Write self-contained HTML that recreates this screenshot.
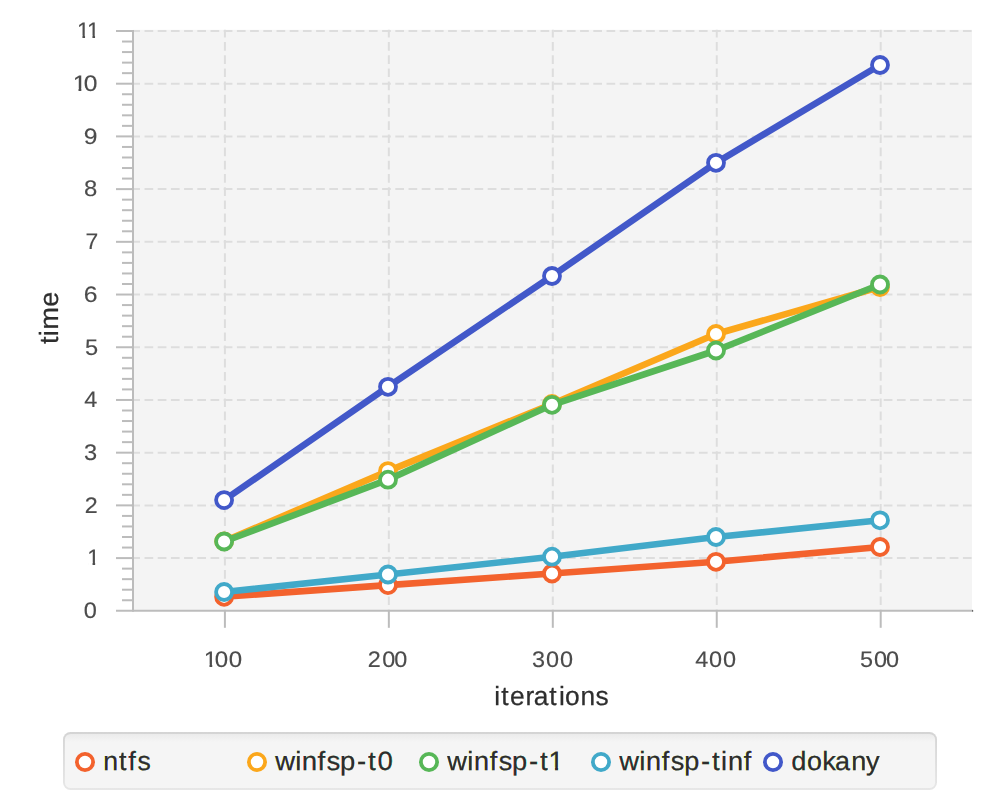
<!DOCTYPE html>
<html><head><meta charset="utf-8"><title>chart</title>
<style>html,body{margin:0;padding:0;background:#fff;width:1000px;height:800px;overflow:hidden}</style></head>
<body>
<svg width="1000" height="800" viewBox="0 0 1000 800" style="position:absolute;left:0;top:0;will-change:transform;font-family:'Liberation Sans',sans-serif;font-kerning:none;text-rendering:geometricPrecision">
<defs><linearGradient id="lgb" x1="0" y1="0" x2="0" y2="1"><stop offset="0" stop-color="#d4d4d4"/><stop offset="1" stop-color="#e7e7e7"/></linearGradient><linearGradient id="lgf" gradientUnits="userSpaceOnUse" x1="0" y1="734" x2="0" y2="742"><stop offset="0" stop-color="#ebebeb"/><stop offset="1" stop-color="#f5f5f5"/></linearGradient><clipPath id="c0"><path clip-rule="evenodd" d="M-2000 -2000H2000V2000H-2000ZM88.11 -2.38H92.55V1.50H88.11ZM95.14 -2.38H99.41V1.50H95.14Z"/></clipPath><clipPath id="c1"><path clip-rule="evenodd" d="M-2000 -2000H2000V2000H-2000ZM67.41 -2.38H71.85V1.50H67.41ZM74.44 -2.38H78.71V1.50H74.44Z"/></clipPath><clipPath id="c2"><path clip-rule="evenodd" d="M-2000 -2000H2000V2000H-2000ZM78.01 -2.38H82.45V1.50H78.01ZM85.04 -2.38H92.45V1.50H85.04ZM95.04 -2.38H99.31V1.50H95.04Z"/></clipPath><clipPath id="c3"><path clip-rule="evenodd" d="M-2000 -2000H2000V2000H-2000ZM191.48 -2.38H195.92V1.50H191.48ZM198.51 -2.38H202.78V1.50H198.51Z"/></clipPath><clipPath id="c4"><path clip-rule="evenodd" d="M-2000 -2000H2000V2000H-2000ZM532.35 -2.67H537.48V1.50H532.35ZM540.41 -2.67H545.33V1.50H540.41Z"/></clipPath><text id="lt0" transform="translate(0 769.8) scale(1.0168 1)" x="101.46 117.05 126.22 135.13" font-size="26.4" fill="currentColor" stroke="currentColor" stroke-width="0.25">ntfs</text><text id="lt1" transform="translate(0 769.8) scale(1.0416 1)" x="264.21 283.46 289.80 304.93 313.59 326.46 342.76 353.37 362.47" font-size="26.4" fill="currentColor" stroke="currentColor" stroke-width="0.25">winfsp-t0</text><text id="lt2" transform="translate(0 769.8) scale(1.0326 1)" x="433.17 452.52 458.96 474.19 482.95 495.94 512.36 523.05 531.14" font-size="26.4" fill="currentColor" stroke="currentColor" stroke-width="0.25" clip-path="url(#c4)">winfsp-t1</text><text id="lt3" transform="translate(0 769.8) scale(1.0312 1)" x="600.59 619.96 626.41 641.66 650.43 663.45 679.88 690.59 699.19 705.96 721.18" font-size="26.4" fill="currentColor" stroke="currentColor" stroke-width="0.25">winfsp-tinf</text><text id="lt4" transform="translate(0 769.8) scale(1.0252 1)" x="771.91 787.08 802.10 814.39 830.32 844.71" font-size="26.4" fill="currentColor" stroke="currentColor" stroke-width="0.25">dokany</text></defs>
<rect x="0" y="0" width="1000" height="800" fill="#ffffff"/>
<rect x="133.0" y="29.8" width="839.0" height="580.2" fill="#f4f4f4"/>
<g stroke="#dddddd" stroke-width="2" fill="none" stroke-dasharray="8.7 4.5">
<path d="M224.9 29.8V610.0" stroke-dashoffset="1"/>
<path d="M388.85 29.8V610.0" stroke-dashoffset="1"/>
<path d="M552.8 29.8V610.0" stroke-dashoffset="1"/>
<path d="M716.75 29.8V610.0" stroke-dashoffset="1"/>
<path d="M880.7 29.8V610.0" stroke-dashoffset="1"/>
<path d="M131.3 558.09H972.0"/>
<path d="M131.3 505.38H972.0"/>
<path d="M131.3 452.67H972.0"/>
<path d="M131.3 399.96H972.0"/>
<path d="M131.3 347.25H972.0"/>
<path d="M131.3 294.54H972.0"/>
<path d="M131.3 241.83H972.0"/>
<path d="M131.3 189.12H972.0"/>
<path d="M131.3 136.41H972.0"/>
<path d="M131.3 83.70H972.0"/>
<path d="M131.3 30.99H972.0"/>
</g>
<g stroke="#bcbcbc" stroke-width="2" fill="none">
<path d="M133 30V611.8"/>
<path d="M116 610.8H973"/>
<path d="M116 558.09H133"/>
<path d="M116 505.38H133"/>
<path d="M116 452.67H133"/>
<path d="M116 399.96H133"/>
<path d="M116 347.25H133"/>
<path d="M116 294.54H133"/>
<path d="M116 241.83H133"/>
<path d="M116 189.12H133"/>
<path d="M116 136.41H133"/>
<path d="M116 83.70H133"/>
<path d="M116 30.99H133"/>
<path d="M122 600.26H133"/>
<path d="M122 589.72H133"/>
<path d="M122 579.17H133"/>
<path d="M122 568.63H133"/>
<path d="M122 547.55H133"/>
<path d="M122 537.01H133"/>
<path d="M122 526.46H133"/>
<path d="M122 515.92H133"/>
<path d="M122 494.84H133"/>
<path d="M122 484.30H133"/>
<path d="M122 473.75H133"/>
<path d="M122 463.21H133"/>
<path d="M122 442.13H133"/>
<path d="M122 431.59H133"/>
<path d="M122 421.04H133"/>
<path d="M122 410.50H133"/>
<path d="M122 389.42H133"/>
<path d="M122 378.88H133"/>
<path d="M122 368.33H133"/>
<path d="M122 357.79H133"/>
<path d="M122 336.71H133"/>
<path d="M122 326.17H133"/>
<path d="M122 315.62H133"/>
<path d="M122 305.08H133"/>
<path d="M122 284.00H133"/>
<path d="M122 273.46H133"/>
<path d="M122 262.91H133"/>
<path d="M122 252.37H133"/>
<path d="M122 231.29H133"/>
<path d="M122 220.75H133"/>
<path d="M122 210.20H133"/>
<path d="M122 199.66H133"/>
<path d="M122 178.58H133"/>
<path d="M122 168.04H133"/>
<path d="M122 157.49H133"/>
<path d="M122 146.95H133"/>
<path d="M122 125.87H133"/>
<path d="M122 115.33H133"/>
<path d="M122 104.78H133"/>
<path d="M122 94.24H133"/>
<path d="M122 73.16H133"/>
<path d="M122 62.62H133"/>
<path d="M122 52.07H133"/>
<path d="M122 41.53H133"/>
<path d="M224.9 611V627.8"/>
<path d="M388.85 611V627.8"/>
<path d="M552.8 611V627.8"/>
<path d="M716.75 611V627.8"/>
<path d="M880.7 611V627.8"/>
</g>
<rect x="972" y="610.3" width="1.2" height="1.2" fill="#444"/>
<polyline points="224.1,596.8 388.0,585.1 552.0,573.5 716.0,561.8 880.0,547.0" fill="none" stroke="#f3622d" stroke-width="6.6" stroke-linejoin="round" stroke-linecap="butt"/>
<circle cx="224.1" cy="596.8" r="8" fill="#fff" stroke="#f3622d" stroke-width="3.8"/>
<circle cx="388.0" cy="585.1" r="8" fill="#fff" stroke="#f3622d" stroke-width="3.8"/>
<circle cx="552.0" cy="573.5" r="8" fill="#fff" stroke="#f3622d" stroke-width="3.8"/>
<circle cx="716.0" cy="561.8" r="8" fill="#fff" stroke="#f3622d" stroke-width="3.8"/>
<circle cx="880.0" cy="547.0" r="8" fill="#fff" stroke="#f3622d" stroke-width="3.8"/>
<polyline points="224.1,541.3 388.0,471.1 552.0,404.0 716.0,334.0 880.0,287.0" fill="none" stroke="#fba71b" stroke-width="6.6" stroke-linejoin="round" stroke-linecap="butt"/>
<circle cx="224.1" cy="541.3" r="8" fill="#fff" stroke="#fba71b" stroke-width="3.8"/>
<circle cx="388.0" cy="471.1" r="8" fill="#fff" stroke="#fba71b" stroke-width="3.8"/>
<circle cx="552.0" cy="404.0" r="8" fill="#fff" stroke="#fba71b" stroke-width="3.8"/>
<circle cx="716.0" cy="334.0" r="8" fill="#fff" stroke="#fba71b" stroke-width="3.8"/>
<circle cx="880.0" cy="287.0" r="8" fill="#fff" stroke="#fba71b" stroke-width="3.8"/>
<polyline points="224.1,541.5 388.0,479.7 552.0,404.8 716.0,350.5 880.0,284.5" fill="none" stroke="#57b757" stroke-width="6.6" stroke-linejoin="round" stroke-linecap="butt"/>
<circle cx="224.1" cy="541.5" r="8" fill="#fff" stroke="#57b757" stroke-width="3.8"/>
<circle cx="388.0" cy="479.7" r="8" fill="#fff" stroke="#57b757" stroke-width="3.8"/>
<circle cx="552.0" cy="404.8" r="8" fill="#fff" stroke="#57b757" stroke-width="3.8"/>
<circle cx="716.0" cy="350.5" r="8" fill="#fff" stroke="#57b757" stroke-width="3.8"/>
<circle cx="880.0" cy="284.5" r="8" fill="#fff" stroke="#57b757" stroke-width="3.8"/>
<polyline points="224.1,592.0 388.0,574.5 552.0,556.7 716.0,537.0 880.0,520.3" fill="none" stroke="#41a9c9" stroke-width="6.6" stroke-linejoin="round" stroke-linecap="butt"/>
<circle cx="224.1" cy="592.0" r="8" fill="#fff" stroke="#41a9c9" stroke-width="3.8"/>
<circle cx="388.0" cy="574.5" r="8" fill="#fff" stroke="#41a9c9" stroke-width="3.8"/>
<circle cx="552.0" cy="556.7" r="8" fill="#fff" stroke="#41a9c9" stroke-width="3.8"/>
<circle cx="716.0" cy="537.0" r="8" fill="#fff" stroke="#41a9c9" stroke-width="3.8"/>
<circle cx="880.0" cy="520.3" r="8" fill="#fff" stroke="#41a9c9" stroke-width="3.8"/>
<polyline points="224.1,500.1 388.0,386.8 552.0,276.0 716.0,162.8 880.0,65.0" fill="none" stroke="#4258c9" stroke-width="6.6" stroke-linejoin="round" stroke-linecap="butt"/>
<circle cx="224.1" cy="500.1" r="8" fill="#fff" stroke="#4258c9" stroke-width="3.8"/>
<circle cx="388.0" cy="386.8" r="8" fill="#fff" stroke="#4258c9" stroke-width="3.8"/>
<circle cx="552.0" cy="276.0" r="8" fill="#fff" stroke="#4258c9" stroke-width="3.8"/>
<circle cx="716.0" cy="162.8" r="8" fill="#fff" stroke="#4258c9" stroke-width="3.8"/>
<circle cx="880.0" cy="65.0" r="8" fill="#fff" stroke="#4258c9" stroke-width="3.8"/>
<text transform="translate(0 617.65) scale(1.0460 1)" x="80.15" font-size="22.5" fill="#4c4c4c" stroke="#4c4c4c" stroke-width="0.15">0</text>
<text transform="translate(0 565.0) scale(1.0000 1)" x="87.19" font-size="22.5" fill="#4c4c4c" stroke="#4c4c4c" stroke-width="0.15" clip-path="url(#c0)">1</text>
<text transform="translate(0 512.8) scale(1.0341 1)" x="82.03" font-size="22.5" fill="#4c4c4c" stroke="#4c4c4c" stroke-width="0.15">2</text>
<text transform="translate(0 460.05) scale(1.0499 1)" x="80.10" font-size="22.5" fill="#4c4c4c" stroke="#4c4c4c" stroke-width="0.15">3</text>
<text transform="translate(0 406.9) scale(1.0408 1)" x="80.96" font-size="22.5" fill="#4c4c4c" stroke="#4c4c4c" stroke-width="0.15">4</text>
<text transform="translate(0 355.05) scale(1.0499 1)" x="81.01" font-size="22.5" fill="#4c4c4c" stroke="#4c4c4c" stroke-width="0.15">5</text>
<text transform="translate(0 301.85) scale(1.0980 1)" x="76.27" font-size="22.5" fill="#4c4c4c" stroke="#4c4c4c" stroke-width="0.15">6</text>
<text transform="translate(0 249.0) scale(1.0168 1)" x="84.02" font-size="22.5" fill="#4c4c4c" stroke="#4c4c4c" stroke-width="0.15">7</text>
<text transform="translate(0 195.85) scale(1.0608 1)" x="79.15" font-size="22.5" fill="#4c4c4c" stroke="#4c4c4c" stroke-width="0.15">8</text>
<text transform="translate(0 143.85) scale(1.0969 1)" x="76.26" font-size="22.5" fill="#4c4c4c" stroke="#4c4c4c" stroke-width="0.15">9</text>
<text transform="translate(0 90.95) scale(1.0925 1)" x="66.49 76.70" font-size="22.5" fill="#4c4c4c" stroke="#4c4c4c" stroke-width="0.15" clip-path="url(#c1)">10</text>
<text transform="translate(0 38.0) scale(1.0000 1)" x="77.09 87.09" font-size="22.5" fill="#4c4c4c" stroke="#4c4c4c" stroke-width="0.15" clip-path="url(#c2)">11</text>
<text transform="translate(0 666.8) scale(1.0692 1)" x="190.57 200.91 214.00" font-size="22.5" fill="#4c4c4c" stroke="#4c4c4c" stroke-width="0.15" clip-path="url(#c3)">100</text>
<text transform="translate(0 666.8) scale(1.0388 1)" x="354.03 367.87 379.42" font-size="22.5" fill="#4c4c4c" stroke="#4c4c4c" stroke-width="0.15">200</text>
<text transform="translate(0 666.8) scale(1.0410 1)" x="511.09 524.59 538.04" font-size="22.5" fill="#4c4c4c" stroke="#4c4c4c" stroke-width="0.15">300</text>
<text transform="translate(0 666.8) scale(1.0428 1)" x="666.67 680.02 693.45" font-size="22.5" fill="#4c4c4c" stroke="#4c4c4c" stroke-width="0.15">400</text>
<text transform="translate(0 666.8) scale(1.0410 1)" x="826.12 839.66 851.19" font-size="22.5" fill="#4c4c4c" stroke="#4c4c4c" stroke-width="0.15">500</text>
<text transform="translate(0 705.35) scale(0.9988 1)" x="494.88 501.94 510.74 526.02 534.33 549.97 559.63 565.78 581.22 596.34" font-size="26.4" fill="#2e2e2e" stroke="#2e2e2e" stroke-width="0.25">iterations</text>
<text transform="translate(58.2 0) rotate(-90) scale(1.0194 1)" x="-337.54 -329.98 -323.32 -300.87" font-size="26.4" fill="#2e2e2e" stroke="#2e2e2e" stroke-width="0.25">time</text>
<rect x="63" y="732" width="874" height="58" rx="7.5" fill="url(#lgb)"/>
<rect x="64.9" y="733.9" width="870.2" height="54.2" rx="5.7" fill="url(#lgf)"/>
<circle cx="85" cy="762" r="8.1" fill="#fff" stroke="#f3622d" stroke-width="3.8"/>
<use href="#lt0" x="0.33" style="color:#2eFFFF;mix-blend-mode:multiply"/>
<use href="#lt0" x="0" style="color:#FF2eFF;mix-blend-mode:multiply"/>
<use href="#lt0" x="-0.33" style="color:#FFFF2e;mix-blend-mode:multiply"/>
<circle cx="257" cy="762" r="8.1" fill="#fff" stroke="#fba71b" stroke-width="3.8"/>
<use href="#lt1" x="0.33" style="color:#2eFFFF;mix-blend-mode:multiply"/>
<use href="#lt1" x="0" style="color:#FF2eFF;mix-blend-mode:multiply"/>
<use href="#lt1" x="-0.33" style="color:#FFFF2e;mix-blend-mode:multiply"/>
<circle cx="429" cy="762" r="8.1" fill="#fff" stroke="#57b757" stroke-width="3.8"/>
<use href="#lt2" x="0.33" style="color:#2eFFFF;mix-blend-mode:multiply"/>
<use href="#lt2" x="0" style="color:#FF2eFF;mix-blend-mode:multiply"/>
<use href="#lt2" x="-0.33" style="color:#FFFF2e;mix-blend-mode:multiply"/>
<circle cx="601" cy="762" r="8.1" fill="#fff" stroke="#41a9c9" stroke-width="3.8"/>
<use href="#lt3" x="0.33" style="color:#2eFFFF;mix-blend-mode:multiply"/>
<use href="#lt3" x="0" style="color:#FF2eFF;mix-blend-mode:multiply"/>
<use href="#lt3" x="-0.33" style="color:#FFFF2e;mix-blend-mode:multiply"/>
<circle cx="773" cy="762" r="8.1" fill="#fff" stroke="#4258c9" stroke-width="3.8"/>
<use href="#lt4" x="0.33" style="color:#2eFFFF;mix-blend-mode:multiply"/>
<use href="#lt4" x="0" style="color:#FF2eFF;mix-blend-mode:multiply"/>
<use href="#lt4" x="-0.33" style="color:#FFFF2e;mix-blend-mode:multiply"/>
</svg>
</body></html>
